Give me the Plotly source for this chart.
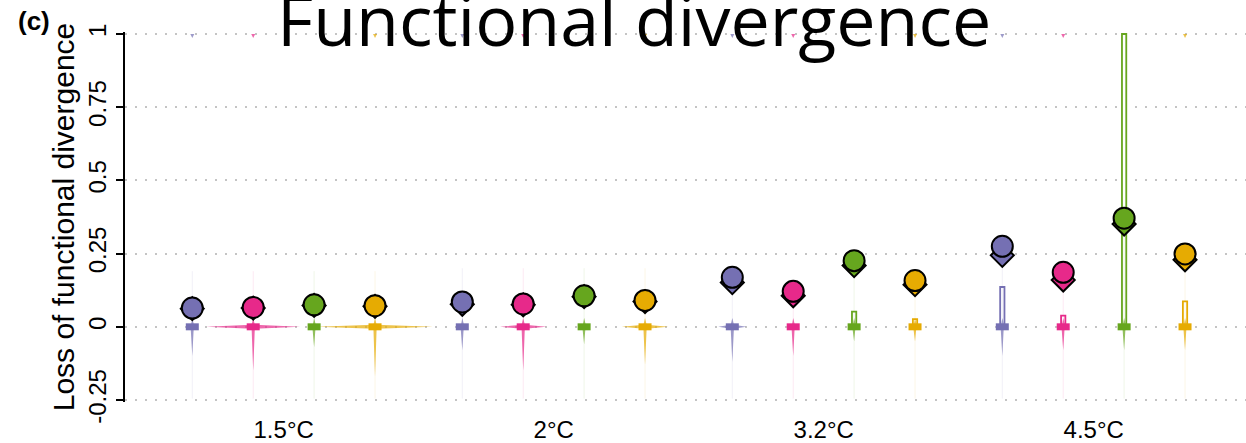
import plotly.graph_objects as go

# ---------------- data ----------------
scenarios = ["1.5°C", "2°C", "3.2°C", "4.5°C"]
series = ["S1", "S2", "S3", "S4"]
colors = ["#7570B3", "#E7298A", "#66A61E", "#E6AB02"]

# circle (upper point) values, rows = scenarios, cols = series
circle_vals = [
    [0.064, 0.066, 0.075, 0.072],
    [0.085, 0.078, 0.106, 0.090],
    [0.169, 0.121, 0.226, 0.158],
    [0.275, 0.186, 0.371, 0.249],
]
# diamond (lower point) values
diamond_vals = [
    [0.062, 0.064, 0.073, 0.070],
    [0.077, 0.075, 0.103, 0.086],
    [0.151, 0.106, 0.209, 0.144],
    [0.244, 0.160, 0.351, 0.229],
]
# box: lower and upper quartile (median at 0)
q1_vals = [
    [0, 0, 0, 0],
    [0, 0, 0, 0],
    [0, 0, 0, 0],
    [0, 0, 0, 0],
]
q3_vals = [
    [0, 0, 0, 0],
    [0, 0, 0, 0],
    [0, 0, 0.052, 0.026],
    [0.136, 0.038, 1.0, 0.087],
]
median_vals = [
    [0, 0, 0, 0],
    [0, 0, 0, 0],
    [0, 0, 0, 0],
    [0, 0, 0, 0],
]
# violin density shape: horizontal half-width at 0 (in slot units)
density_spread = [
    [0.0, 0.77, 0.0, 0.95],
    [0.0, 0.38, 0.0, 0.38],
    [0.23, 0.0, 0.0, 0.0],
    [0.0, 0.0, 0.0, 0.0],
]
# visible dense tail below 0
density_low = [
    [-0.10, -0.15, -0.07, -0.17],
    [-0.08, -0.15, -0.06, -0.13],
    [-0.12, -0.10, -0.05, -0.05],
    [-0.10, -0.08, -0.08, -0.08],
]
# faint tails of violins
tail_low = [
    [-0.245, -0.245, -0.245, -0.245],
    [-0.245, -0.245, -0.245, -0.245],
    [-0.245, -0.245, -0.245, -0.245],
    [-0.245, -0.245, -0.245, -0.245],
]
tail_high = [
    [0.19, 0.19, 0.19, 0.19],
    [0.20, 0.20, 0.20, 0.20],
    [0.15, 0.11, 0.21, 0.14],
    [0.24, 0.16, 0.35, 0.23],
]
# small density mass at 1
mass_at_one = [
    [1, 1, 0, 1],
    [1, 1, 0, 1],
    [1, 1, 0, 1],
    [1, 1, 0, 1],
]
y_ticks = [-0.25, 0, 0.25, 0.5, 0.75, 1]
y_ticktext = ["-0.25", "0", "0.25", "0.5", "0.75", "1"]

# ---------------- layout helpers ----------------
GROUP_STEP = 4.433
PX = 1 / 60.9          # one pixel in x units
PY = 1 / 292.8         # one pixel in y units


def pos(g, i):
    return g * GROUP_STEP + i


def rgba(hexc, a):
    h = hexc.lstrip("#")
    return f"rgba({int(h[0:2],16)},{int(h[2:4],16)},{int(h[4:6],16)},{a})"


fig = go.Figure()
nG = len(scenarios)

for i, col in enumerate(colors):
    # faint tails
    fx, fy = [], []
    for g in range(nG):
        p = pos(g, i)
        fx += [p, p, None]
        fy += [tail_low[g][i], tail_high[g][i], None]
    fig.add_trace(go.Scatter(x=fx, y=fy, mode="lines",
                             line=dict(color=rgba(col, 0.10), width=1),
                             hoverinfo="skip", showlegend=False))
    # dense star-shaped violin cores
    sx, sy = [], []
    for g in range(nG):
        p = pos(g, i)
        w = 1.6 * PX
        h = 2.0 * PY
        hw = max(density_spread[g][i], w)
        lo = density_low[g][i]
        up = 0.03
        sx += [p, p + w, p + hw, p + w, p, p - w, p - hw, p - w, p, None]
        sy += [lo, -h, 0, h, up, h, 0, -h, lo, None]
        if mass_at_one[g][i]:
            sx += [p - 2 * PX, p + 2 * PX, p, p - 2 * PX, None]
            sy += [1, 1, 1 - 4 * PY, 1, None]
    fig.add_trace(go.Scatter(x=sx, y=sy, mode="lines", fill="toself",
                             fillcolor=rgba(col, 0.7), line=dict(width=0, color=rgba(col, 0)),
                             hoverinfo="skip", showlegend=False))

# hollow boxes (quartiles)
for i, col in enumerate(colors):
    bx, by, bb = [], [], []
    for g in range(nG):
        if q3_vals[g][i] > q1_vals[g][i]:
            bx.append(pos(g, i))
            by.append(q3_vals[g][i] - q1_vals[g][i])
            bb.append(q1_vals[g][i])
    if bx:
        fig.add_trace(go.Bar(x=bx, y=by, base=bb, width=[4.3 * PX] * len(bx),
                             marker=dict(color="white", line=dict(color=col, width=1.8)),
                             hoverinfo="skip", showlegend=False))

# median rectangles
for i, col in enumerate(colors):
    mx, my = [], []
    for g in range(nG):
        p = pos(g, i)
        mx += [p - 6.5 * PX, p + 6.5 * PX, None]
        my += [median_vals[g][i], median_vals[g][i], None]
    fig.add_trace(go.Scatter(x=mx, y=my, mode="lines",
                             line=dict(color=col, width=7),
                             hoverinfo="skip", showlegend=False))

# diamonds then circles
for i, col in enumerate(colors):
    xs = [pos(g, i) for g in range(nG)]
    fig.add_trace(go.Scatter(x=xs, y=[diamond_vals[g][i] for g in range(nG)], mode="markers",
                             marker=dict(symbol="diamond", size=17.7, color=col,
                                         line=dict(color="black", width=2)),
                             name=series[i], showlegend=False, cliponaxis=False))
for i, col in enumerate(colors):
    xs = [pos(g, i) for g in range(nG)]
    fig.add_trace(go.Scatter(x=xs, y=[circle_vals[g][i] for g in range(nG)], mode="markers",
                             marker=dict(symbol="circle", size=21, color=col,
                                         line=dict(color="black", width=2)),
                             name=series[i], showlegend=False, cliponaxis=False))

group_centres = [pos(g, 1.5) for g in range(nG)]

fig.update_layout(
    width=1246, height=443,
    margin=dict(l=125, r=0, t=32, b=41),
    paper_bgcolor="white", plot_bgcolor="white",
    barmode="overlay",
    font=dict(family="Liberation Sans, Arial, sans-serif", color="black"),
    xaxis=dict(range=[-1.105, 17.30], tickvals=group_centres, ticktext=scenarios,
               showgrid=False, zeroline=False, showline=False, automargin=False,
               ticks="outside", ticklen=6, tickcolor="rgba(0,0,0,0)",
               tickfont=dict(size=24, family="Liberation Sans, Arial, sans-serif")),
    yaxis=dict(range=[-0.2568, 1.0068], tickvals=y_ticks, ticktext=y_ticktext,
               tickangle=-90, ticks="outside", ticklen=7, tickwidth=2, tickcolor="black",
               showline=True, linewidth=2, linecolor="black", automargin=False,
               showgrid=True, gridcolor="#c4c4c4", gridwidth=2, griddash="2px,8px",
               zeroline=False,
               tickfont=dict(size=24, family="Liberation Sans, Arial, sans-serif"),
               title=dict(text="Loss of functional divergence", standoff=1,
                          font=dict(size=30, family="Liberation Sans, Arial, sans-serif"))),
    annotations=[
        dict(text="Functional divergence", xref="paper", yref="paper", x=(634 - 125) / 1121, y=1,
             xanchor="center", yanchor="middle", yshift=13, showarrow=False,
             font=dict(size=70, family="Open Sans, sans-serif", color="black")),
        dict(text="<b>(c)</b>", xref="paper", yref="paper", x=0, y=1, xshift=-91, yshift=11,
             xanchor="center", yanchor="middle", showarrow=False,
             font=dict(size=26, family="Liberation Sans, Arial, sans-serif", color="black")),
    ],
)

fig.write_html("out.html", config={"displayModeBar": False},
               post_script="document.body.style.margin='0px';")
